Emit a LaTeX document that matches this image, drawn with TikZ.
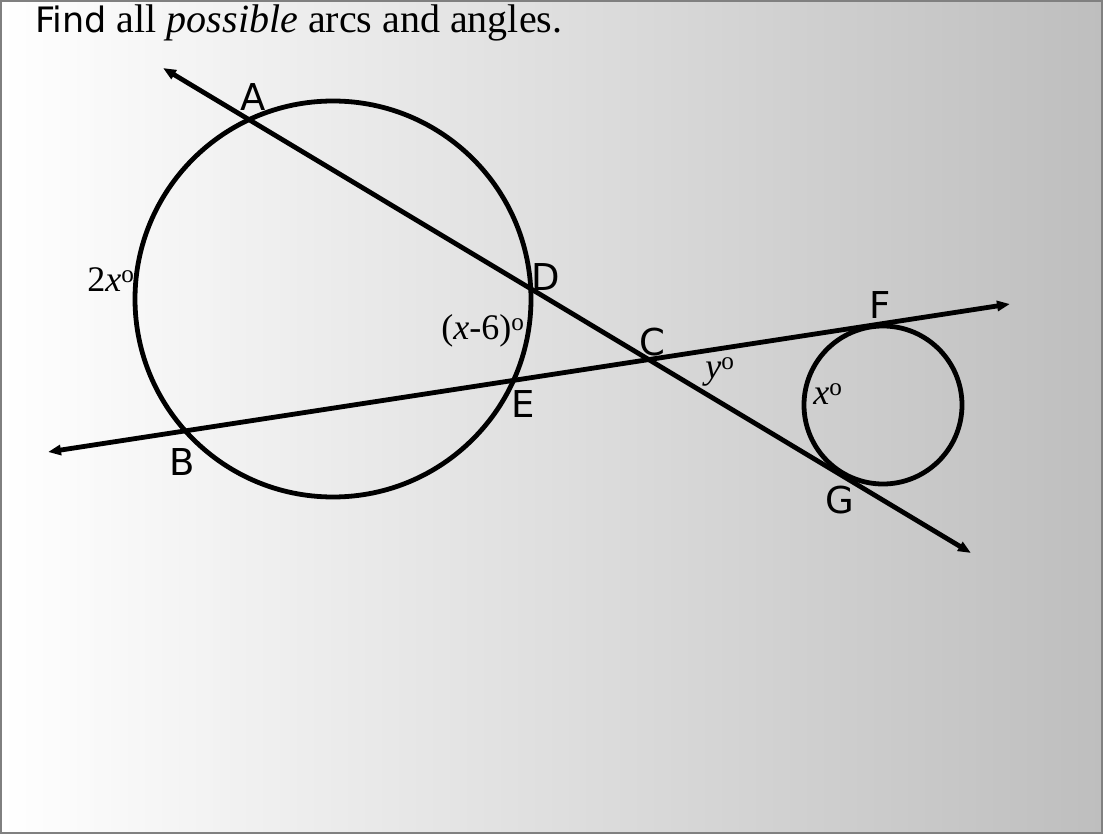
\documentclass[tikz,border=0pt]{standalone}
\usepackage{fontspec}
\setmainfont{Liberation Serif}
\newfontfamily\ptfont{DejaVu Sans}
\usetikzlibrary{arrows.meta, positioning, calc}
\definecolor{cBorder}{RGB}{128,128,128}
\definecolor{cRight}{RGB}{190,190,190}
\tikzset{
	ptlabel/.style  ={font=\ptfont\fontsize{37}{42}\selectfont, inner sep=0pt},
	arclabel/.style ={font=\fontsize{36}{42}\selectfont, inner sep=0pt},
	secant/.style   ={{Triangle[length=13pt, width=10pt]}-{Triangle[length=13pt, width=10pt]}, line width=4.8pt},
	ring/.style     ={line width=4.8pt},
}
\begin{document}
\begin{tikzpicture}[x=1pt, y=-1pt]
	\useasboundingbox (0,0) rectangle (1103,834);
	\shade[left color=white, right color=cRight, shading angle=90] (0,0) rectangle (1103,834);
	\draw[cBorder, line width=1.5pt] (1,1) rectangle (1102,833);
	\node[anchor=base west, font=\fontsize{40}{46}\selectfont, inner sep=0pt] (title) at (35,33) {{\ptfont\fontsize{35}{40}\selectfont Find} all \textit{possible} arcs and angles.};
	% secant lines
	\coordinate (upleft) at (163,68);
	\coordinate (downright) at (971,553);
	\coordinate (left) at (48,452);
	\coordinate (right) at (1010,304);
	\draw[secant] (upleft) -- (downright);
	\draw[secant] (left) -- (right);
	% circles
	\coordinate (bigO) at (333,299);
	\coordinate (smallO) at (883,405);
	\draw[ring] (bigO) circle (198);
	\draw[ring] (smallO) circle (79);
	% point labels
	\node[ptlabel] (A) at (253,97) {A};
	\node[ptlabel] (B) at (182,462) {B};
	\node[ptlabel] (C) at (652,342) {C};
	\node[ptlabel] (D) at (546,277) {D};
	\node[ptlabel] (E) at (523,404) {E};
	\node[ptlabel] (F) at (880,305) {F};
	\node[ptlabel] (G) at (840,500) {G};
	% measures
	\node[arclabel] (arcBA) at (111,280) {2\textit{x}\textsuperscript{o}};
	\node[arclabel] (arcDE) at (483,331) {(\textit{x}-6)\textsuperscript{o}};
	\node[arclabel] (angC) at (720,372) {\textit{y}\textsuperscript{o}};
	\node[arclabel] (arcFG) at (828,394) {\textit{x}\textsuperscript{o}};
\end{tikzpicture}
\end{document}
